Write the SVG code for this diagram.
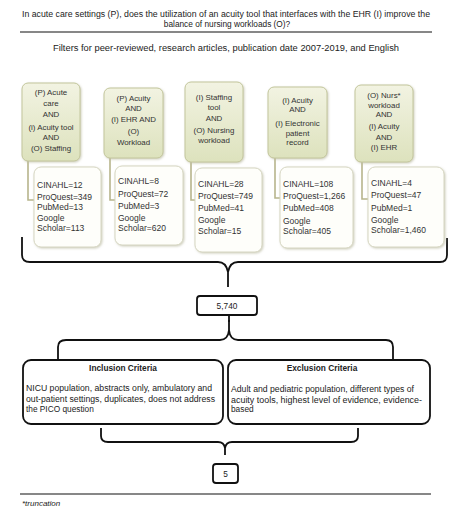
<svg xmlns="http://www.w3.org/2000/svg" width="454" height="513" viewBox="0 0 454 513">
<defs>
<linearGradient id="gg" x1="0" y1="0" x2="0" y2="1">
<stop offset="0" stop-color="#f2f3e2"/>
<stop offset="1" stop-color="#dde2bd"/>
</linearGradient>
<filter id="sh" x="-10%" y="-10%" width="130%" height="130%">
<feDropShadow dx="1" dy="1" stdDeviation="0.8" flood-color="#bdbda5" flood-opacity="0.7"/>
</filter>
</defs>
<style>
text{font-family:"Liberation Sans",Arial,sans-serif;fill:#222}
.t{font-size:8.3px}
.g{font-size:7.9px;text-anchor:middle;fill:#333}
.w{font-size:8.5px;fill:#333}
.c{text-anchor:middle}
.b{font-weight:bold}
.green{fill:url(#gg);stroke:#c3c69c;stroke-width:1;filter:url(#sh)}
.white{fill:#fefefa;stroke:#d6d6c2;stroke-width:1;filter:url(#sh)}
.olive{fill:none;stroke:#b7b58c;stroke-width:1.6}
.br{fill:none;stroke:#111;stroke-width:1.8;stroke-linejoin:round}
.box{fill:#fff;stroke:#111;stroke-width:1.8}
</style>
<rect width="454" height="513" fill="#fff"/>
<g id="title">
<text class="t" x="22" y="17" textLength="408" lengthAdjust="spacingAndGlyphs">In acute care settings (P), does the utilization of an acuity tool that interfaces with the EHR (I) improve the</text>
<text class="t c" x="227" y="27">balance of nursing workloads (O)?</text>
<line x1="20" y1="32" x2="432" y2="32" stroke="#111" stroke-width="1.2"/>
<text class="t c" x="226" y="51" textLength="346" lengthAdjust="spacingAndGlyphs">Filters for peer-reviewed, research articles, publication date 2007-2019, and English</text>
</g>
<g id="connectors">
<path class="olive" d="M28,161 V200 H34"/>
<path class="olive" d="M110,158 V200 H115"/>
<path class="olive" d="M191,162 V200 H195"/>
<path class="olive" d="M275,158 V198 H280"/>
<path class="olive" d="M362,162 V199 H368"/>
<path class="br" d="M22,237 V255 Q22,262 30,262 H218 Q226,262 228,272 V287 M228,272 Q230,262 238,262 H440 Q447,262 447,255 V238"/>
<line class="br" x1="229" y1="315" x2="229" y2="322"/>
<path class="br" d="M58,360 V347 Q58,340 66,340 H220 Q228,340 229,330 V320 M229,330 Q230,340 238,340 H386 Q393,340 393,347 V360"/>
<path class="br" d="M101,428 V436 Q101,442 108,442 H218 Q224,442 225,448 V455 M225,448 Q226,442 232,442 H351 Q358,442 358,436 V428"/>
</g>
<g id="p1">
<rect class="green" x="22" y="83" width="58" height="78" rx="6"/>
<text class="g" x="51" y="95">(P) Acute</text>
<text class="g" x="51" y="106">care</text>
<text class="g" x="51" y="117">AND</text>
<text class="g" x="51" y="130">(i) Acuity tool</text>
<text class="g" x="51" y="140">AND</text>
<text class="g" x="51" y="151">(O) Staffing</text>
</g>
<g id="p2">
<rect class="green" x="104" y="88" width="59" height="70" rx="6"/>
<text class="g" x="133.5" y="101">(P) Acuity</text>
<text class="g" x="133.5" y="111">AND</text>
<text class="g" x="133.5" y="122">(I) EHR AND</text>
<text class="g" x="133.5" y="134">(O)</text>
<text class="g" x="133.5" y="145">Workload</text>
</g>
<g id="p3">
<rect class="green" x="185" y="82" width="58" height="80" rx="6"/>
<text class="g" x="214" y="100">(I) Staffing</text>
<text class="g" x="214" y="110">tool</text>
<text class="g" x="214" y="121">AND</text>
<text class="g" x="214" y="133">(O) Nursing</text>
<text class="g" x="214" y="143">workload</text>
</g>
<g id="p4">
<rect class="green" x="268" y="87" width="59" height="71" rx="6"/>
<text class="g" x="297.5" y="103">(I) Acuity</text>
<text class="g" x="297.5" y="112">AND</text>
<text class="g" x="297.5" y="126">(I) Electronic</text>
<text class="g" x="297.5" y="136">patient</text>
<text class="g" x="297.5" y="145">record</text>
</g>
<g id="p5">
<rect class="green" x="355" y="85" width="58" height="77" rx="6"/>
<text class="g" x="384" y="98">(O) Nurs*</text>
<text class="g" x="384" y="108">workload</text>
<text class="g" x="384" y="117">AND</text>
<text class="g" x="384" y="129">(I) Acuity</text>
<text class="g" x="384" y="140">AND</text>
<text class="g" x="384" y="150">(I) EHR</text>
</g>
<g id="r1">
<rect class="white" x="34" y="167" width="67" height="80" rx="7"/>
<text class="w" x="37" y="188">CINAHL=12</text>
<text class="w" x="37" y="200">ProQuest=349</text>
<text class="w" x="37" y="210">PubMed=13</text>
<text class="w" x="37" y="221">Google</text>
<text class="w" x="37" y="231">Scholar=113</text>
</g>
<g id="r2">
<rect class="white" x="115" y="166" width="68" height="79" rx="7"/>
<text class="w" x="118" y="184">CINAHL=8</text>
<text class="w" x="118" y="197">ProQuest=72</text>
<text class="w" x="118" y="209">PubMed=3</text>
<text class="w" x="118" y="221">Google</text>
<text class="w" x="118" y="231">Scholar=620</text>
</g>
<g id="r3">
<rect class="white" x="195" y="168" width="67" height="84" rx="7"/>
<text class="w" x="198" y="187">CINAHL=28</text>
<text class="w" x="198" y="199">ProQuest=749</text>
<text class="w" x="198" y="211">PubMed=41</text>
<text class="w" x="198" y="223">Google</text>
<text class="w" x="198" y="234">Scholar=15</text>
</g>
<g id="r4">
<rect class="white" x="280" y="167" width="73" height="81" rx="7"/>
<text class="w" x="283" y="187">CINAHL=108</text>
<text class="w" x="283" y="199">ProQuest=1,266</text>
<text class="w" x="283" y="211">PubMed=408</text>
<text class="w" x="283" y="224">Google</text>
<text class="w" x="283" y="234">Scholar=405</text>
</g>
<g id="r5">
<rect class="white" x="368" y="167" width="76" height="80" rx="7"/>
<text class="w" x="371" y="186">CINAHL=4</text>
<text class="w" x="371" y="198">ProQuest=47</text>
<text class="w" x="371" y="211">PubMed=1</text>
<text class="w" x="371" y="223">Google</text>
<text class="w" x="371" y="233">Scholar=1,460</text>
</g>
<g id="total">
<rect class="box" x="197" y="296" width="60" height="19" rx="3"/>
<text class="t c" x="227" y="309">5,740</text>
</g>
<g id="inclusion">
<rect class="box" x="23" y="360" width="200" height="64" rx="8"/>
<text class="t c b" x="123" y="371">Inclusion Criteria</text>
<text class="t" x="26" y="391" textLength="186" lengthAdjust="spacingAndGlyphs">NICU population, abstracts only, ambulatory and</text>
<text class="t" x="26" y="402" textLength="189" lengthAdjust="spacingAndGlyphs">out-patient settings, duplicates, does not address</text>
<text class="t" x="26" y="412">the PICO question</text>
</g>
<g id="exclusion">
<rect class="box" x="228" y="360" width="202" height="64" rx="8"/>
<text class="t c b" x="322" y="371">Exclusion Criteria</text>
<text class="t" x="231" y="392" textLength="183" lengthAdjust="spacingAndGlyphs">Adult and pediatric population, different types of</text>
<text class="t" x="231" y="403" textLength="191" lengthAdjust="spacingAndGlyphs">acuity tools, highest level of evidence, evidence-</text>
<text class="t" x="231" y="412">based</text>
</g>
<g id="final">
<rect class="box" x="213" y="464" width="25" height="19" rx="3"/>
<text class="t c" x="225.5" y="477">5</text>
</g>
<g id="footer">
<line x1="20" y1="494" x2="431" y2="494" stroke="#111" stroke-width="1.2"/>
<text x="22" y="506" font-size="8" font-style="italic" fill="#333">*truncation</text>
</g>
</svg>
